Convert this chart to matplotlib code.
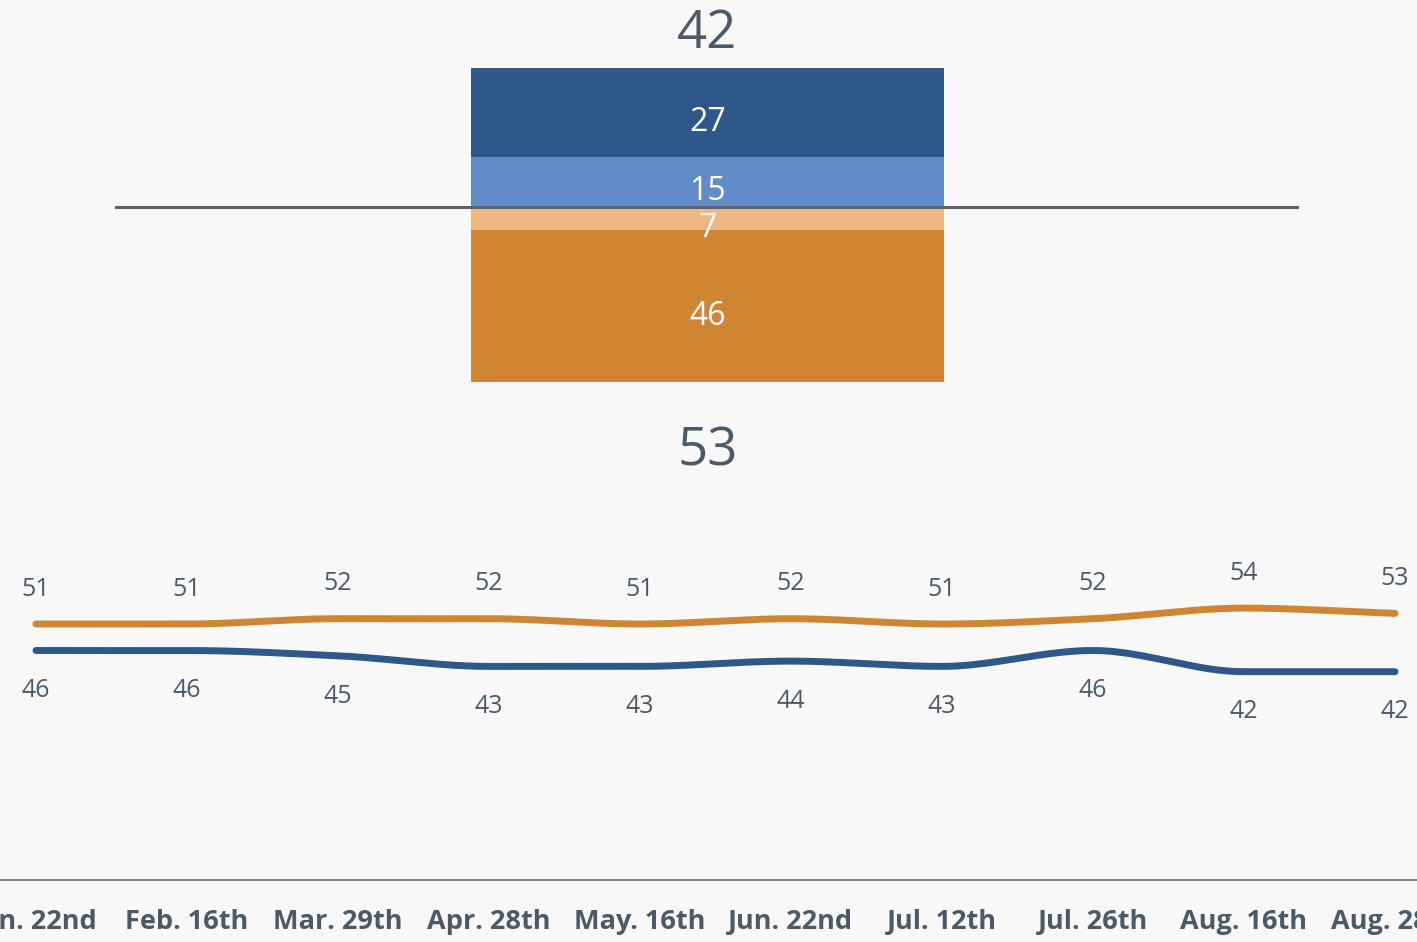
import numpy as np
import matplotlib.pyplot as plt

# data
top_vals = [15, 27]          # light blue, dark blue (above zero)
bottom_vals = [7, 46]        # light orange, orange (below zero)
top_colors = ['#618cc8', '#2e5889']
bottom_colors = ['#efb880', '#cf8532']

dates = ['Jan. 22nd', 'Feb. 16th', 'Mar. 29th', 'Apr. 28th', 'May. 16th',
         'Jun. 22nd', 'Jul. 12th', 'Jul. 26th', 'Aug. 16th', 'Aug. 28th']
orange_line = [51, 51, 52, 52, 51, 52, 51, 52, 54, 53]
blue_line = [46, 46, 45, 43, 43, 44, 43, 46, 42, 42]

plt.rcParams['font.family'] = ['Open Sans', 'DejaVu Sans']
txt_col = '#4b5a69'
W, H = 1417, 942

fig = plt.figure(figsize=(W / 100, H / 100), dpi=100)
fig.patch.set_facecolor('#f8f8f8')


def smooth(y, n=40):
    # monotone cubic (Fritsch-Carlson) between the data points
    y = np.asarray(y, float)
    x = np.arange(len(y))
    d = np.diff(y)
    m = np.zeros(len(y))
    m[0], m[-1] = d[0], d[-1]
    for i in range(1, len(y) - 1):
        if d[i - 1] * d[i] > 0:
            m[i] = 2 / (1 / d[i - 1] + 1 / d[i])
    xs, ys = [], []
    for i in range(len(y) - 1):
        t = np.linspace(0, 1, n, endpoint=False)
        h00 = 2 * t**3 - 3 * t**2 + 1
        h10 = t**3 - 2 * t**2 + t
        h01 = -2 * t**3 + 3 * t**2
        h11 = t**3 - t**2
        xs.append(x[i] + t)
        ys.append(h00 * y[i] + h10 * m[i] + h01 * y[i + 1] + h11 * m[i + 1])
    xs.append([x[-1]])
    ys.append([y[-1]])
    return np.concatenate(xs), np.concatenate(ys)


# ---- stacked diverging bar ----
ax = fig.add_axes([0, 1 - 480 / H, 1, 480 / H])
ax.set_facecolor('none')
ppu = 3.31
ax.set_ylim(-(480 - 207) / ppu, 207 / ppu)
bw = 473
ax.set_xlim(-707.5 / bw, (W - 707.5) / bw)

base = 0
for v, c in zip(top_vals, top_colors):
    ax.bar(0, v, 1, bottom=base, color=c, zorder=2)
    ax.annotate(str(v), (0, base + v / 2), xytext=(0, -7), textcoords='offset points',
                color='white', fontsize=23, ha='center', va='center', zorder=4)
    base += v
ax.annotate(str(sum(top_vals)), (0, base), xytext=(0, 5), textcoords='offset points',
            ha='center', va='bottom', fontsize=38, color=txt_col)
base = 0
for v, c in zip(bottom_vals, bottom_colors):
    ax.bar(0, -v, 1, bottom=base, color=c, zorder=2)
    ax.annotate(str(v), (0, base - v / 2), xytext=(0, -7), textcoords='offset points',
                color='white', fontsize=23, ha='center', va='center', zorder=4)
    base -= v
ax.annotate(str(sum(bottom_vals)), (0, base), xytext=(0, -31), textcoords='offset points',
            ha='center', va='top', fontsize=38, color=txt_col)
ax.axhline(0, xmin=116 / W, xmax=1297 / W, color='#5a6470', lw=2.2, zorder=3)
ax.axis('off')

# ---- line chart ----
ax2 = fig.add_axes([0, 1 - 880 / H, 1, 340 / H])
ax2.set_facecolor('none')
x = np.arange(len(dates))
ax2.set_xlim(-36 / 151, (W - 36) / 151)
lppu = 5.3
ax2.set_ylim(51 - (880 - 624) / lppu, 51 + (624 - 540) / lppu)

for vals, col, off, va in [(orange_line, '#cf8532', 16, 'bottom'),
                           (blue_line, '#2e5889', -20, 'top')]:
    sx, sy = smooth(vals)
    ax2.plot(sx, sy, color=col, lw=5, solid_capstyle='round')
    for xi, v in zip(x, vals):
        ax2.annotate(str(v), (xi, v), xytext=(0, off), textcoords='offset points',
                     ha='center', va=va, fontsize=18, color=txt_col)

for s in ['top', 'left', 'right']:
    ax2.spines[s].set_visible(False)
ax2.spines['bottom'].set_color('#888888')
ax2.spines['bottom'].set_linewidth(1.5)
ax2.set_yticks([])
ax2.set_xticks(x)
ax2.set_xticklabels(dates, fontsize=19.5, fontweight='bold', color=txt_col)
ax2.tick_params(axis='x', length=0, pad=21)

fig.savefig('out.png', dpi=100, facecolor=fig.get_facecolor())
